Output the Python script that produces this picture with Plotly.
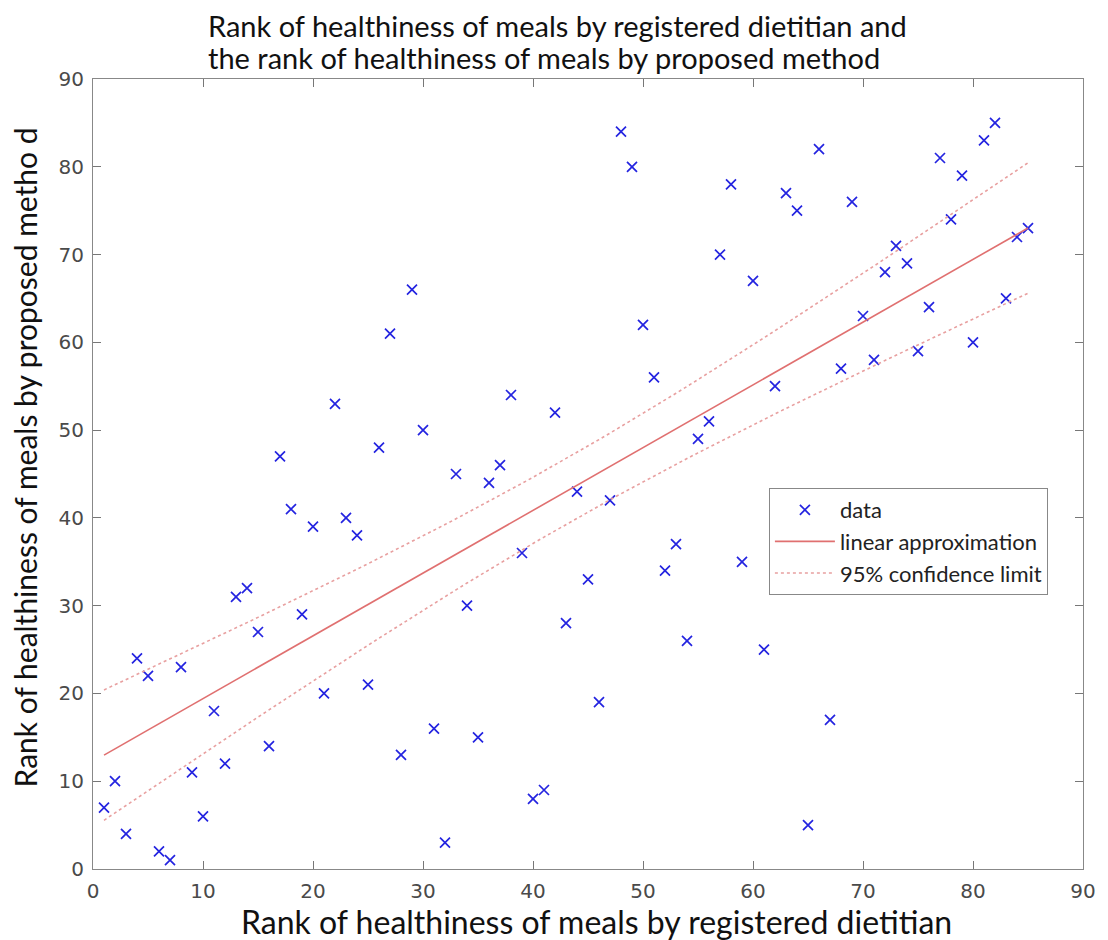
import numpy as np
import plotly.graph_objects as go

# Rank by registered dietitian (x) and rank by proposed method (y)
dietitian_rank = list(range(1, 86))
proposed_rank = [7, 10, 4, 24, 22, 2, 1, 23, 11, 6,
                 18, 12, 31, 32, 27, 14, 47, 41, 29, 39,
                 20, 53, 40, 38, 21, 48, 61, 13, 66, 50,
                 16, 3, 45, 30, 15, 44, 46, 54, 36, 8,
                 9, 52, 28, 43, 33, 19, 42, 84, 80, 62,
                 56, 34, 37, 26, 49, 51, 70, 78, 35, 67,
                 25, 55, 77, 75, 5, 82, 17, 57, 76, 63,
                 58, 68, 71, 69, 59, 64, 81, 74, 79, 60,
                 83, 85, 65, 72, 73]
tick_values = [0, 10, 20, 30, 40, 50, 60, 70, 80, 90]
t_value = 1.989  # t(0.975, n-2) for n = 85

title_line1 = "Rank of healthiness of meals by registered dietitian and"
title_line2 = "the rank of healthiness of meals by proposed method"
x_title = "Rank of healthiness of meals by registered dietitian"
y_title = "Rank of healthiness of meals by proposed metho d"

xs = np.array(dietitian_rank, dtype=float)
ys = np.array(proposed_rank, dtype=float)
n = len(xs)
slope, intercept = np.polyfit(xs, ys, 1)
resid = ys - (slope * xs + intercept)
s = np.sqrt(np.sum(resid ** 2) / (n - 2))
xbar = xs.mean()
sxx = np.sum((xs - xbar) ** 2)
fit_y = slope * xs + intercept
half = t_value * s * np.sqrt(1.0 / n + (xs - xbar) ** 2 / sxx)
upper = fit_y + half
lower = fit_y - half

band_x = list(xs) + [None] + list(xs)
band_y = list(upper) + [None] + list(lower)

fig = go.Figure()
fig.add_trace(go.Scatter(
    x=dietitian_rank, y=proposed_rank, mode="markers", name="data",
    marker=dict(symbol="x-thin-open", size=10, color="#2424e0",
                line=dict(color="#2424e0", width=1.7)),
))
fig.add_trace(go.Scatter(
    x=list(xs), y=list(fit_y), mode="lines", name="linear approximation",
    line=dict(color="#e07070", width=1.6),
))
fig.add_trace(go.Scatter(
    x=band_x, y=band_y, mode="lines", name="95% confidence limit",
    line=dict(color="#e8a0a0", width=1.6, dash="dot"),
    connectgaps=False,
))

axis_common = dict(
    range=[0, 90], tickvals=tick_values, ticks="inside", ticklen=8,
    tickcolor="#777777", tickwidth=1, showline=True, linecolor="#888888",
    linewidth=1.2, mirror="ticks", showgrid=False, zeroline=False,
    tickfont=dict(family="DejaVu Sans", size=20, color="#4a4a4a"),
)

# figure is 8px smaller than the window because of the page's body margin
W, H = 1100, 932
ml, mr, mt, mb = 85, 19, 71, 71
pw = W - ml - mr
ph = H - mt - mb
left_px, bottom_px = ml + 8, H - mb + 8


def px_x(p):
    return (p - left_px) / pw


def px_y(p):
    return (bottom_px - p) / ph


title_font = dict(family="Lato", size=29, color="#111111")
label_font = dict(family="Lato", size=32, color="#111111")

annotations = [
    dict(text=title_line1, x=px_x(207), y=px_y(25), xref="paper", yref="paper",
         xanchor="left", yanchor="middle", showarrow=False, font=title_font),
    dict(text=title_line2, x=px_x(207), y=px_y(57), xref="paper", yref="paper",
         xanchor="left", yanchor="middle", showarrow=False, font=title_font),
    dict(text=x_title, x=px_x(600), y=px_y(922), xref="paper", yref="paper",
         xanchor="center", yanchor="middle", showarrow=False, font=label_font),
    dict(text=y_title, x=px_x(25), y=px_y(457), xref="paper", yref="paper",
         xanchor="center", yanchor="middle", showarrow=False, textangle=-90,
         font=dict(family="Lato", size=30, color="#111111")),
]

fig.update_layout(
    width=W, height=H,
    paper_bgcolor="white", plot_bgcolor="white",
    margin=dict(l=ml, r=mr, t=mt, b=mb),
    xaxis=dict(**axis_common, ticklabelstandoff=4),
    yaxis=dict(**axis_common, ticklabelstandoff=4),
    annotations=annotations,
    legend=dict(
        x=px_x(773), y=px_y(488), xanchor="left", yanchor="top",
        bgcolor="white", bordercolor="#888888", borderwidth=1,
        font=dict(family="Lato", size=22, color="#222222"),
        tracegroupgap=0, itemwidth=60,
    ),
    showlegend=True,
)

fig.write_html("out.html")
